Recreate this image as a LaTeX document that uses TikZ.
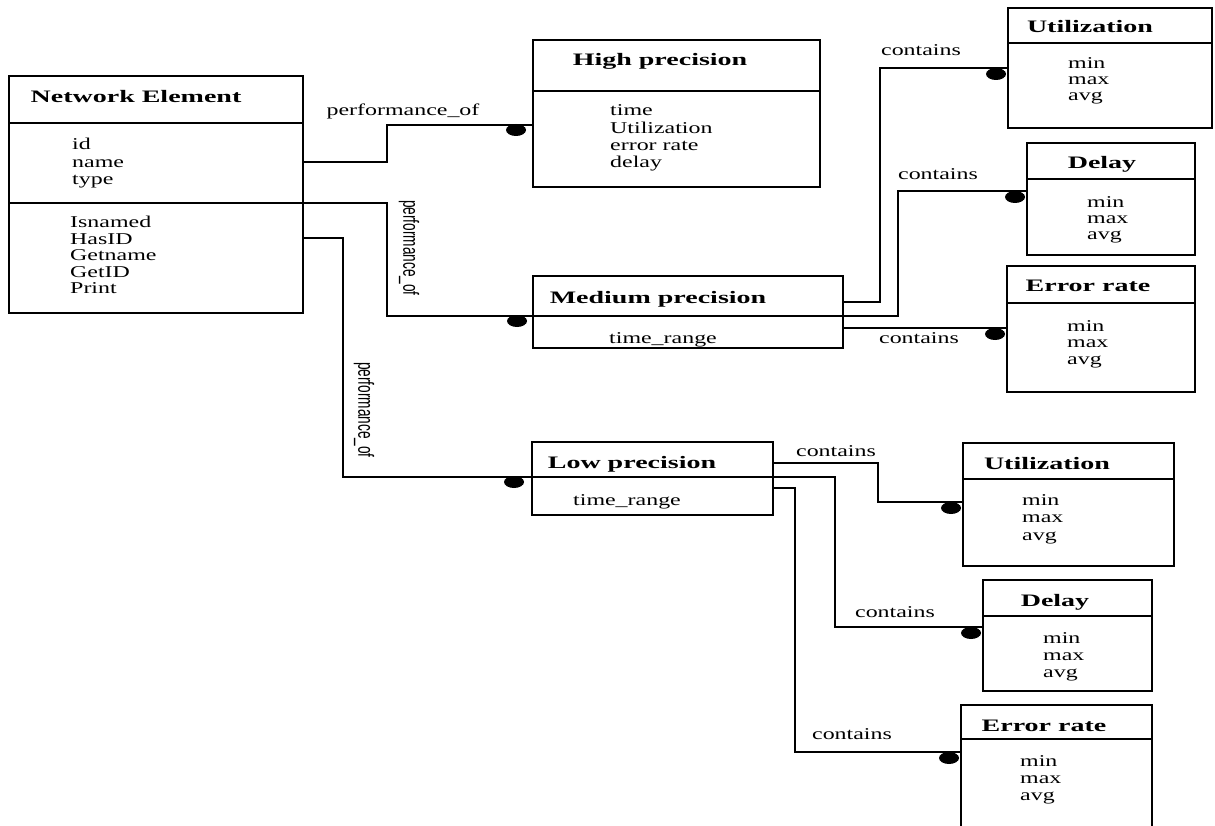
\documentclass[tikz,border=0pt]{standalone}
\usepackage{fontspec}
\newfontfamily\bodyf{Liberation Serif}[FakeStretch=1.45]
\newfontfamily\titlef{Liberation Serif}[FakeStretch=1.6]
\newfontfamily\narrowf{Liberation Sans}[FakeStretch=0.62]
\tikzset{
  box/.style={draw, line width=1.6pt, rectangle, inner sep=0pt, outer sep=0pt, anchor=north west},
  divider/.style={line width=1.6pt},
  conn/.style={line width=1.6pt},
  ttl/.style={font=\titlef\bfseries\fontsize{17.5}{17.5}\selectfont, anchor=base, inner sep=0pt},
  attr/.style={font=\bodyf\fontsize{16.5}{16.5}\selectfont, anchor=base west, inner sep=0pt},
  attrc/.style={font=\bodyf\fontsize{16.5}{16.5}\selectfont, anchor=base, inner sep=0pt},
  lbl/.style={font=\bodyf\fontsize{16.5}{16.5}\selectfont, anchor=base, inner sep=0pt},
  vlbl/.style={font=\narrowf\fontsize{22}{22}\selectfont, rotate=-90, anchor=center, inner sep=0pt}
}
\newcommand{\crowdot}[3]{\fill (#1) ++(#2,#3) ellipse [x radius=10pt, y radius=6pt];}
\begin{document}
\begin{tikzpicture}[x=1pt,y=-1pt]
\useasboundingbox (0,0) rectangle (1215,826);
\clip (0,0) rectangle (1215,826);
\fill[white] (0,0) rectangle (1215,826);

% ---------- boxes ----------
\node[box, minimum width=294pt, minimum height=237pt] (ne) at (9,76) {};
\node[box, minimum width=287pt, minimum height=147pt] (hp) at (533,40) {};
\node[box, minimum width=310pt, minimum height=72pt] (mp) at (533,276) {};
\node[box, minimum width=241pt, minimum height=73pt] (lp) at (532,442) {};
\node[box, minimum width=204pt, minimum height=120pt] (u1) at (1008,8) {};
\node[box, minimum width=168pt, minimum height=112pt] (d1) at (1027,143) {};
\node[box, minimum width=188pt, minimum height=126pt] (e1) at (1007,266) {};
\node[box, minimum width=211pt, minimum height=123pt] (u2) at (963,443) {};
\node[box, minimum width=169pt, minimum height=111pt] (d2) at (983,580) {};
\node[box, minimum width=191pt, minimum height=140pt] (e2) at (961,705) {};

% ---------- dividers ----------
\draw[divider] (ne.west |- 0,123) -- (ne.east |- 0,123);
\draw[divider] (ne.west |- 0,203) -- (ne.east |- 0,203);
\draw[divider] (hp.west |- 0,91) -- (hp.east |- 0,91);
\draw[divider] (mp.west |- 0,316) -- (mp.east |- 0,316);
\draw[divider] (lp.west |- 0,477) -- (lp.east |- 0,477);
\draw[divider] (u1.west |- 0,43) -- (u1.east |- 0,43);
\draw[divider] (d1.west |- 0,179) -- (d1.east |- 0,179);
\draw[divider] (e1.west |- 0,303) -- (e1.east |- 0,303);
\draw[divider] (u2.west |- 0,479) -- (u2.east |- 0,479);
\draw[divider] (d2.west |- 0,616) -- (d2.east |- 0,616);
\draw[divider] (e2.west |- 0,739) -- (e2.east |- 0,739);

% ---------- titles ----------
\node[ttl] (ne-t) at (136,103) {Network Element};
\node[ttl] (hp-t) at (660,66) {High precision};
\node[ttl] (mp-t) at (658,303) {Medium precision};
\node[ttl] (lp-t) at (632,468) {Low precision};
\node[ttl] (u1-t) at (1090,33) {Utilization};
\node[ttl] (d1-t) at (1102,169) {Delay};
\node[ttl] (e1-t) at (1088,291) {Error rate};
\node[ttl] (u2-t) at (1047,469) {Utilization};
\node[ttl] (d2-t) at (1055,606) {Delay};
\node[ttl] (e2-t) at (1044,731) {Error rate};

% ---------- attributes ----------
\foreach \t [count=\i] in {id,name,type}
  \node[attr] (ne-a\i) at (72,{150+(\i-1)*17.5}) {\t};
\foreach \t [count=\i] in {Isnamed,HasID,Getname,GetID,Print}
  \node[attr] (ne-m\i) at (70,{228+(\i-1)*16.5}) {\t};
\foreach \t [count=\i] in {time,Utilization,error rate,delay}
  \node[attr] (hp-a\i) at (610,{116+(\i-1)*17.3}) {\t};
\node[attrc] (mp-a1) at (663,343) {time\_range};
\node[attrc] (lp-a1) at (627,505) {time\_range};
\foreach \t [count=\i] in {min,max,avg}
  \node[attr] (u1-a\i) at (1068,{69+(\i-1)*16}) {\t};
\foreach \t [count=\i] in {min,max,avg}
  \node[attr] (d1-a\i) at (1087,{208+(\i-1)*16}) {\t};
\foreach \t [count=\i] in {min,max,avg}
  \node[attr] (e1-a\i) at (1067,{331+(\i-1)*16.5}) {\t};
\foreach \t [count=\i] in {min,max,avg}
  \node[attr] (u2-a\i) at (1022,{505+(\i-1)*17.5}) {\t};
\foreach \t [count=\i] in {min,max,avg}
  \node[attr] (d2-a\i) at (1043,{643+(\i-1)*17}) {\t};
\foreach \t [count=\i] in {min,max,avg}
  \node[attr] (e2-a\i) at (1020,{766+(\i-1)*17}) {\t};

% ---------- connectors ----------
\draw[conn] (ne.east |- 0,162) -| (387,125) -- (hp.west |- 0,125);
\draw[conn] (ne.east |- 0,203) -| (387,316) -- (mp.west |- 0,316);
\draw[conn] (ne.east |- 0,238) -| (343,477) -- (lp.west |- 0,477);
\draw[conn] (mp.east |- 0,302) -| (880,68) -- (u1.west |- 0,68);
\draw[conn] (mp.east |- 0,316) -| (898,191) -- (d1.west |- 0,191);
\draw[conn] (mp.east |- 0,328) -- (e1.west |- 0,328);
\draw[conn] (lp.east |- 0,463) -| (878,502) -- (u2.west |- 0,502);
\draw[conn] (lp.east |- 0,477) -| (835,627) -- (d2.west |- 0,627);
\draw[conn] (lp.east |- 0,488) -| (795,752) -- (e2.west |- 0,752);

% ---------- dots ----------
\crowdot{hp.west |- 0,125}{-17}{5}
\crowdot{mp.west |- 0,316}{-16}{5}
\crowdot{lp.west |- 0,477}{-18}{5}
\crowdot{u1.west |- 0,68}{-12}{6}
\crowdot{d1.west |- 0,191}{-12}{6}
\crowdot{e1.west |- 0,328}{-12}{6}
\crowdot{u2.west |- 0,502}{-12}{6}
\crowdot{d2.west |- 0,627}{-12}{6}
\crowdot{e2.west |- 0,752}{-12}{6}

% ---------- labels ----------
\node[lbl] (l-hp) at (403,116) {performance\_of};
\node[vlbl] (l-mp) at (409,248) {performance\_of};
\node[vlbl] (l-lp) at (364,410) {performance\_of};
\node[lbl] (l-u1) at (921,56) {contains};
\node[lbl] (l-d1) at (938,180) {contains};
\node[lbl] (l-e1) at (919,343) {contains};
\node[lbl] (l-u2) at (836,456) {contains};
\node[lbl] (l-d2) at (895,617) {contains};
\node[lbl] (l-e2) at (852,739) {contains};
\end{tikzpicture}
\end{document}
